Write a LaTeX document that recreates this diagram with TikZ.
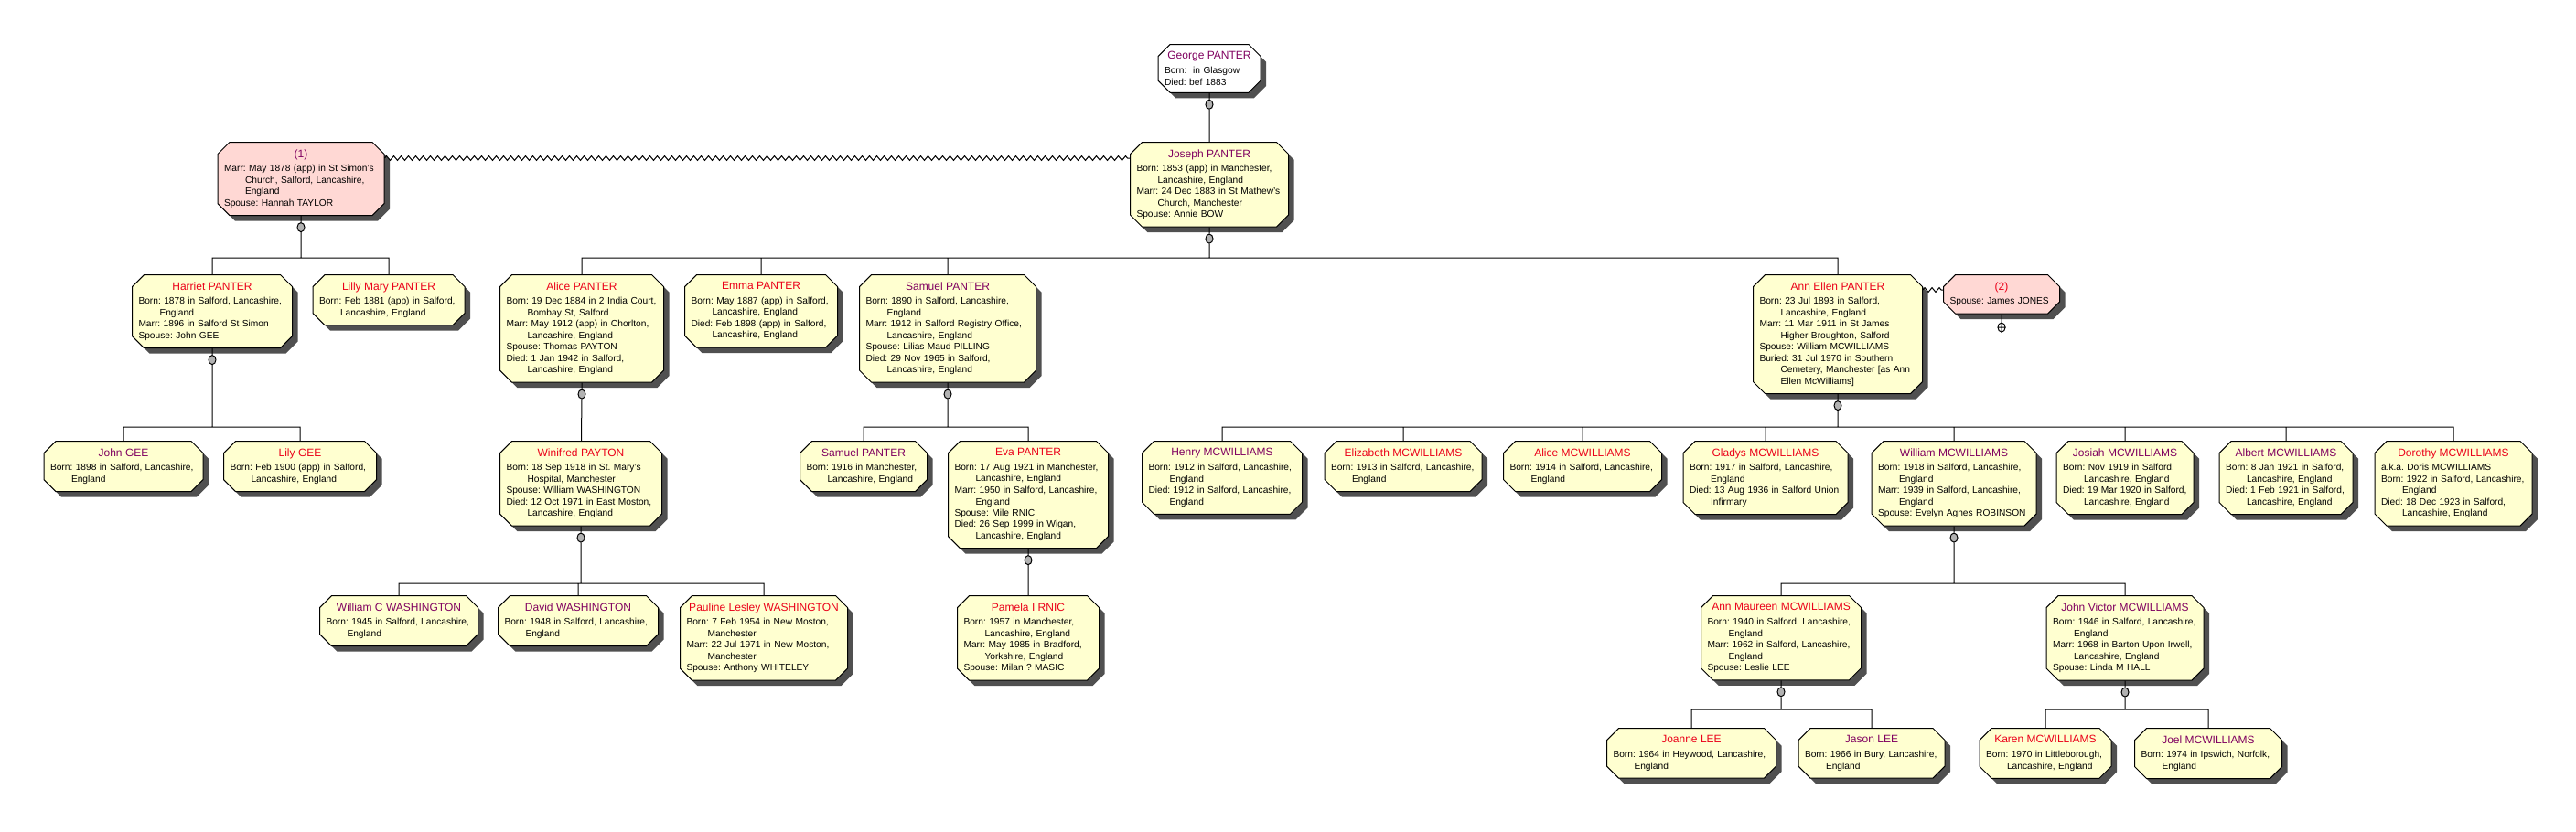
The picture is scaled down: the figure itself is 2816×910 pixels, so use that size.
\documentclass[tikz,border=0pt]{standalone}
\usepackage{fontspec}
\setmainfont{Liberation Sans}
\usetikzlibrary{shapes,shadows,positioning,decorations.pathmorphing}
\definecolor{boxc}{RGB}{255,255,208}
\definecolor{marrc}{RGB}{255,216,212}
\definecolor{shadowc}{RGB}{80,80,80}
\definecolor{malec}{RGB}{128,0,96}
\definecolor{femalec}{RGB}{235,0,25}
\setlength{\parindent}{0pt}
\setlength{\parskip}{0pt}
\frenchspacing
\hyphenpenalty=10000
\newcommand{\who}[2]{{\centering\leavevmode\fontsize{6}{7}\selectfont\color{#1}#2\par}\vspace{1.6pt}}
\newcommand{\more}{\\\hspace*{11.5pt}}

\begin{document}
\begin{tikzpicture}[x=0.5pt,y=-0.5pt]
  \tikzstyle{every node}=[font=\fontsize{5.1}{6.25}\selectfont\raggedright]
  \tikzstyle{person}=[chamfered rectangle, chamfered rectangle xsep=3pt, draw, line width=0.5pt,
    fill=boxc, drop shadow={shadow xshift=3pt, shadow yshift=-3pt, fill=shadowc, opacity=1},
    inner xsep=0.5pt, inner ysep=0.5pt, anchor=north,
    text width=#1pt, minimum width={#1pt+7pt}]
  \tikzstyle{knob}=[ellipse, draw, line width=0.5pt, fill=black!30, inner sep=0pt,
    minimum width=4pt, minimum height=5pt]
  \tikzstyle{wed}=[draw, line width=0.5pt, decorate, decoration={zigzag, segment length=4pt, amplitude=1.2pt}]
  \tikzstyle{every path}=[line width=0.5pt]
  \useasboundingbox (0,0) rectangle (2816,910);

  % generation 1
  \node[person=49, fill=white] (george) at (1322,48) {\who{malec}{George PANTER}Born:\ \ in Glasgow\\Died: bef 1883};

  % generation 2
  \node[person=84, fill=marrc] (marr1) at (329,155) {\who{malec}{(1)}Marr: May 1878 (app) in St Simon's\more Church, Salford, Lancashire,\more England\\Spouse: Hannah TAYLOR};
  \node[person=79.5] (joseph) at (1322,155) {\who{malec}{Joseph PANTER}Born: 1853 (app) in Manchester,\more Lancashire, England\\Marr: 24 Dec 1883 in St Mathew's\more Church, Manchester\\Spouse: Annie BOW};

  % generation 3
  \node[person=80.5] (harriet) at (232,300) {\who{femalec}{Harriet PANTER}Born: 1878 in Salford, Lancashire,\more England\\Marr: 1896 in Salford St Simon\\Spouse: John GEE};
  \node[person=76] (lilly) at (425,300) {\who{femalec}{Lilly Mary PANTER}Born: Feb 1881 (app) in Salford,\more Lancashire, England};
  \node[person=82.5] (alice) at (636,300) {\who{femalec}{Alice PANTER}Born: 19 Dec 1884 in 2 India Court,\more Bombay St, Salford\\Marr: May 1912 (app) in Chorlton,\more Lancashire, England\\Spouse: Thomas PAYTON\\Died: 1 Jan 1942 in Salford,\more Lancashire, England};
  \node[person=76.5] (emma) at (832,300) {\who{femalec}{Emma PANTER}Born: May 1887 (app) in Salford,\more Lancashire, England\\Died: Feb 1898 (app) in Salford,\more Lancashire, England};
  \node[person=89.5] (samuel) at (1036,300) {\who{malec}{Samuel PANTER}Born: 1890 in Salford, Lancashire,\more England\\Marr: 1912 in Salford Registry Office,\more Lancashire, England\\Spouse: Lilias Maud PILLING\\Died: 29 Nov 1965 in Salford,\more Lancashire, England};
  \node[person=85.5] (annellen) at (2009,300) {\who{femalec}{Ann Ellen PANTER}Born: 23 Jul 1893 in Salford,\more Lancashire, England\\Marr: 11 Mar 1911 in St James\more Higher Broughton, Salford\\Spouse: William MCWILLIAMS\\Buried: 31 Jul 1970 in Southern\more Cemetery, Manchester [as Ann\more Ellen McWilliams]};
  \node[person=56.5, fill=marrc] (marr2) at (2188,300) {\who{femalec}{(2)}Spouse: James JONES\par\vspace{4pt}};

  % generation 4
  \node[person=80] (johngee) at (135,482) {\who{malec}{John GEE}Born: 1898 in Salford, Lancashire,\more England};
  \node[person=76.5] (lilygee) at (328,482) {\who{femalec}{Lily GEE}Born: Feb 1900 (app) in Salford,\more Lancashire, England};
  \node[person=81.5] (winifred) at (635,482) {\who{femalec}{Winifred PAYTON}Born: 18 Sep 1918 in St. Mary's\more Hospital, Manchester\\Spouse: William WASHINGTON\\Died: 12 Oct 1971 in East Moston,\more Lancashire, England};
  \node[person=62.5] (samuel2) at (944,482) {\who{malec}{Samuel PANTER}Born: 1916 in Manchester,\more Lancashire, England};
  \node[person=80.5] (eva) at (1124,482) {\who{femalec}{Eva PANTER}Born: 17 Aug 1921 in Manchester,\more Lancashire, England\\Marr: 1950 in Salford, Lancashire,\more England\\Spouse: Mile RNIC\\Died: 26 Sep 1999 in Wigan,\more Lancashire, England};
  \node[person=80.5] (henry) at (1336,482) {\who{malec}{Henry MCWILLIAMS}Born: 1912 in Salford, Lancashire,\more England\\Died: 1912 in Salford, Lancashire,\more England};
  \node[person=79] (elizabeth) at (1534,482) {\who{femalec}{Elizabeth MCWILLIAMS}Born: 1913 in Salford, Lancashire,\more England};
  \node[person=79.5] (alicemcw) at (1730,482) {\who{femalec}{Alice MCWILLIAMS}Born: 1914 in Salford, Lancashire,\more England};
  \node[person=83] (gladys) at (1930,482) {\who{femalec}{Gladys MCWILLIAMS}Born: 1917 in Salford, Lancashire,\more England\\Died: 13 Aug 1936 in Salford Union\more Infirmary};
  \node[person=83] (william) at (2136,482) {\who{malec}{William MCWILLIAMS}Born: 1918 in Salford, Lancashire,\more England\\Marr: 1939 in Salford, Lancashire,\more England\\Spouse: Evelyn Agnes ROBINSON};
  \node[person=68] (josiah) at (2323,482) {\who{malec}{Josiah MCWILLIAMS}Born: Nov 1919 in Salford,\more Lancashire, England\\Died: 19 Mar 1920 in Salford,\more Lancashire, England};
  \node[person=66] (albert) at (2499,482) {\who{malec}{Albert MCWILLIAMS}Born: 8 Jan 1921 in Salford,\more Lancashire, England\\Died: 1 Feb 1921 in Salford,\more Lancashire, England};
  \node[person=79] (dorothy) at (2682,482) {\who{femalec}{Dorothy MCWILLIAMS}a.k.a. Doris MCWILLIAMS\\Born: 1922 in Salford, Lancashire,\more England\\Died: 18 Dec 1923 in Salford,\more Lancashire, England};

  % generation 5
  \node[person=79.5] (williamc) at (436,651) {\who{malec}{William C WASHINGTON}Born: 1945 in Salford, Lancashire,\more England};
  \node[person=80.5] (david) at (632,651) {\who{malec}{David WASHINGTON}Born: 1948 in Salford, Lancashire,\more England};
  \node[person=84.5] (pauline) at (835,651) {\who{femalec}{Pauline Lesley WASHINGTON}Born: 7 Feb 1954 in New Moston,\more Manchester\\Marr: 22 Jul 1971 in New Moston,\more Manchester\\Spouse: Anthony WHITELEY};
  \node[person=70.5] (pamela) at (1124,651) {\who{femalec}{Pamela I RNIC}Born: 1957 in Manchester,\more Lancashire, England\\Marr: May 1985 in Bradford,\more Yorkshire, England\\Spouse: Milan ? MASIC};
  \node[person=80.5] (annmaureen) at (1947,651) {\who{femalec}{Ann Maureen MCWILLIAMS}Born: 1940 in Salford, Lancashire,\more England\\Marr: 1962 in Salford, Lancashire,\more England\\Spouse: Leslie LEE};
  \node[person=79] (johnvictor) at (2323,651) {\who{malec}{John Victor MCWILLIAMS}Born: 1946 in Salford, Lancashire,\more England\\Marr: 1968 in Barton Upon Irwell,\more Lancashire, England\\Spouse: Linda M HALL};

  % generation 6
  \node[person=85.5] (joanne) at (1849,796) {\who{femalec}{Joanne LEE}Born: 1964 in Heywood, Lancashire,\more England};
  \node[person=73] (jason) at (2046,796) {\who{malec}{Jason LEE}Born: 1966 in Bury, Lancashire,\more England};
  \node[person=65] (karen) at (2236,796) {\who{femalec}{Karen MCWILLIAMS}Born: 1970 in Littleborough,\more Lancashire, England};
  \node[person=73.5] (joel) at (2414,796) {\who{malec}{Joel MCWILLIAMS}Born: 1974 in Ipswich, Norfolk,\more England};

  % knobs under the parents
  \node[knob, below=3.5pt of george] (george-k) {};
  \node[knob, below=3.5pt of marr1] (marr1-k) {};
  \node[knob, below=3.5pt of joseph] (joseph-k) {};
  \node[knob, below=3.5pt of harriet] (harriet-k) {};
  \node[knob, below=3.5pt of alice] (alice-k) {};
  \node[knob, below=3.5pt of samuel] (samuel-k) {};
  \node[knob, below=3.5pt of annellen] (annellen-k) {};
  \node[knob, fill=white, below=4.5pt of marr2] (marr2-k) {};
  \node[knob, below=3.5pt of winifred] (winifred-k) {};
  \node[knob, below=3.5pt of eva] (eva-k) {};
  \node[knob, below=3.5pt of william] (william-k) {};
  \node[knob, below=3.5pt of annmaureen] (annmaureen-k) {};
  \node[knob, below=3.5pt of johnvictor] (johnvictor-k) {};

  % marriages
  \draw[wed] (marr1.east |- 0,173) -- (joseph.west |- 0,173);
  \draw[wed] (annellen.east |- 0,317) -- (marr2.west |- 0,317);
  \draw (marr2) -- (marr2-k) (marr2-k.north) -- (marr2-k.south) (marr2-k.west) -- (marr2-k.east);

  % descent lines
  \draw (george) -- (george-k) (george-k) -- (joseph);
  \draw (marr1) -- (marr1-k) (marr1-k) -- (marr1-k |- 0,282)
    (harriet) |- (lilly.north |- 0,282) -- (lilly);
  \draw (joseph) -- (joseph-k) (joseph-k) -- (joseph-k |- 0,282)
    (alice) |- (annellen.north |- 0,282) -- (annellen)
    (emma) -- (emma |- 0,282) (samuel) -- (samuel |- 0,282);
  \draw (harriet) -- (harriet-k) (harriet-k) -- (harriet-k |- 0,467)
    (johngee) |- (lilygee.north |- 0,467) -- (lilygee);
  \draw (alice) -- (alice-k) (alice-k) -- (winifred);
  \draw (samuel) -- (samuel-k) (samuel-k) -- (samuel-k |- 0,467)
    (samuel2) |- (eva.north |- 0,467) -- (eva);
  \draw (annellen) -- (annellen-k) (annellen-k) -- (annellen-k |- 0,467)
    (henry) |- (dorothy.north |- 0,467) -- (dorothy)
    (elizabeth) -- (elizabeth |- 0,467) (alicemcw) -- (alicemcw |- 0,467)
    (gladys) -- (gladys |- 0,467) (william) -- (william |- 0,467)
    (josiah) -- (josiah |- 0,467) (albert) -- (albert |- 0,467);
  \draw (winifred) -- (winifred-k) (winifred-k) -- (winifred-k |- 0,638)
    (williamc) |- (pauline.north |- 0,638) -- (pauline)
    (david) -- (david |- 0,638);
  \draw (eva) -- (eva-k) (eva-k) -- (pamela);
  \draw (william) -- (william-k) (william-k) -- (william-k |- 0,638)
    (annmaureen) |- (johnvictor.north |- 0,638) -- (johnvictor);
  \draw (annmaureen) -- (annmaureen-k) (annmaureen-k) -- (annmaureen-k |- 0,776)
    (joanne) |- (jason.north |- 0,776) -- (jason);
  \draw (johnvictor) -- (johnvictor-k) (johnvictor-k) -- (johnvictor-k |- 0,776)
    (karen) |- (joel.north |- 0,776) -- (joel);
\end{tikzpicture}
\end{document}
